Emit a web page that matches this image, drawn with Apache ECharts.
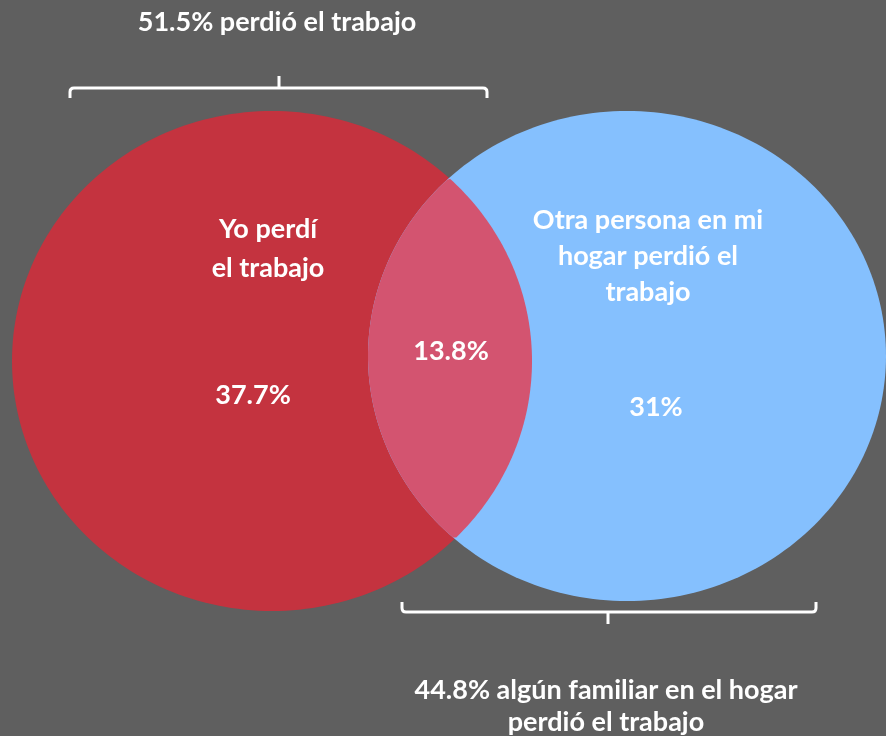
<!DOCTYPE html>
<html>
<head>
<meta charset="utf-8">
<script src="https://cdn.jsdelivr.net/npm/echarts@6/dist/echarts.min.js"></script>
<style>
  html, body { margin: 0; padding: 0; background: #5f5f5f; }
  #chart { width: 886px; height: 736px; }
</style>
</head>
<body>
<div id="chart"></div>
<script>
// datos del diagrama
const setNames = ['Yo perdí\nel trabajo', 'Otra persona en mi\nhogar perdió el\ntrabajo']
const onlyShares = [37.7, 31]
const bothShare = 13.8
const totalShares = [51.5, 44.8]
const totalLabels = ['perdió el trabajo', 'algún familiar en el hogar\nperdió el trabajo']

// geometría (en px del lienzo)
const shapes = [
  { cx: 272, cy: 361, rx: 260, ry: 250, color: '#c4333f', name: [268, 249], lh: 39, value: [253, 395] },
  { cx: 627, cy: 356, rx: 259, ry: 245, color: '#85c0fe', name: [648, 256], lh: 36, value: [656, 407] },
]
const lens = { x: 450, y: 358, color: '#d35470', value: [451, 351] }
// llaves: extremos, punta central, línea y sentido de la punta
const brackets = [
  { x0: 70, x1: 487, xm: 279, y: 88, dir: -1, text: [277, 22] },
  { x0: 402, x1: 816, xm: 608, y: 612, dir: 1, text: [606, 706] },
]

const font = 'Lato, "Open Sans", sans-serif'
const fontSize = 27
const fmt = v => `${ v }%`

function ellipsePts(s) {
  const pts = []
  for (let i = 0; i < 240; i++) {
    const a = i / 240 * Math.PI * 2
    pts.push([s.cx + s.rx * Math.cos(a), s.cy + s.ry * Math.sin(a)])
  }
  return pts
}

// distancia desde un punto interior hasta el borde de la elipse
function rayHit(s, px, py, c, sn) {
  const dx = px - s.cx, dy = py - s.cy
  const a = (c / s.rx) ** 2 + (sn / s.ry) ** 2
  const b = 2 * (dx * c / s.rx ** 2 + dy * sn / s.ry ** 2)
  const k = (dx / s.rx) ** 2 + (dy / s.ry) ** 2 - 1
  return (-b + Math.sqrt(b * b - 4 * a * k)) / (2 * a)
}

function lensPts() {
  const pts = []
  for (let i = 0; i < 360; i++) {
    const a = i / 360 * Math.PI * 2
    const c = Math.cos(a), sn = Math.sin(a)
    const t = Math.min(rayHit(shapes[0], lens.x, lens.y, c, sn), rayHit(shapes[1], lens.x, lens.y, c, sn))
    pts.push([lens.x + t * c, lens.y + t * sn])
  }
  return pts
}

function txt(api, pos, text, lh) {
  const p = api.coord(pos)
  return {
    type: 'text',
    x: p[0], y: p[1],
    style: {
      text, fill: '#fff', font: `bold ${ fontSize }px ${ font }`,
      align: 'center', verticalAlign: 'middle', lineHeight: lh || 37,
    },
    z2: 10,
  }
}

function bracketPath(api, b) {
  const P = (x, y) => api.coord([x, y]).join(',')
  const y = b.y, e = 10 * -b.dir, r = 4, t = 12 * b.dir
  return `M${ P(b.x0, y + e) } L${ P(b.x0, y + (e > 0 ? r : -r)) } Q${ P(b.x0, y) } ${ P(b.x0 + r, y) }`
    + ` L${ P(b.x1 - r, y) } Q${ P(b.x1, y) } ${ P(b.x1, y + (e > 0 ? r : -r)) } L${ P(b.x1, y + e) }`
    + ` M${ P(b.xm, y) } L${ P(b.xm, y + t) }`
}

function renderItem(params, api) {
  const idx = api.value(0)
  if (idx < 2) {
    const s = shapes[idx]
    return { type: 'polygon', shape: { points: ellipsePts(s).map(p => api.coord(p)) }, style: { fill: s.color } }
  }
  if (idx === 2) {
    return {
      type: 'group',
      children: [
        { type: 'polygon', shape: { points: lensPts().map(p => api.coord(p)) }, style: { fill: lens.color } },
        txt(api, shapes[0].name, setNames[0], shapes[0].lh),
        txt(api, shapes[0].value, fmt(onlyShares[0])),
        txt(api, shapes[1].name, setNames[1], shapes[1].lh),
        txt(api, shapes[1].value, fmt(onlyShares[1])),
        txt(api, lens.value, fmt(bothShare)),
      ],
    }
  }
  const children = brackets.map(b => ({
    type: 'path',
    shape: { pathData: bracketPath(api, b) },
    style: { stroke: '#fff', lineWidth: 3, fill: null },
  }))
  children.push(txt(api, brackets[0].text, `${ fmt(totalShares[0]) } ${ totalLabels[0] }`, 32))
  children.push(txt(api, brackets[1].text, `${ fmt(totalShares[1]) } ${ totalLabels[1] }`, 32))
  return { type: 'group', children }
}

const option = {
  backgroundColor: '#5f5f5f',
  animation: false,
  grid: { left: 0, right: 0, top: 0, bottom: 0 },
  xAxis: { type: 'value', min: 0, max: 886, show: false },
  yAxis: { type: 'value', min: 0, max: 736, inverse: true, show: false },
  series: [{
    type: 'custom',
    renderItem,
    data: [[0], [1], [2], [3]],
    silent: true,
  }],
}

const chart = echarts.init(document.getElementById('chart'))
chart.setOption(option)
</script>
</body>
</html>
